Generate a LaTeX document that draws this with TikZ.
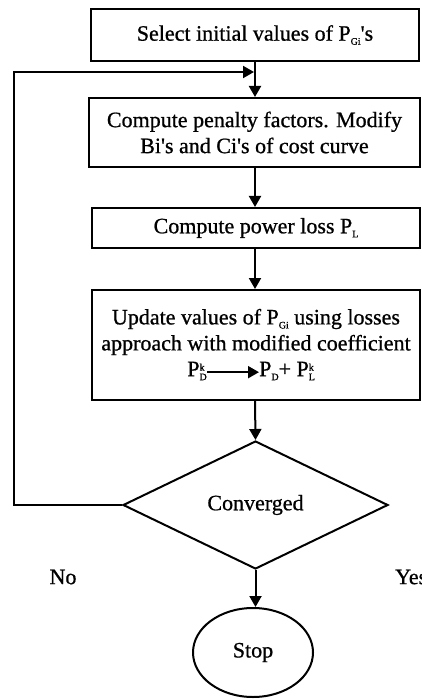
\documentclass[tikz,border=0pt]{standalone}
\usepackage{fontspec}
\setmainfont{Liberation Serif}[FakeBold=0.8]
\usetikzlibrary{shapes.geometric,arrows.meta}

% P with small raised / lowered index
\newcommand{\pidx}[2]{P\rlap{\raisebox{0.55ex}{\fontsize{10}{10}\selectfont #1}}\raisebox{-0.4ex}{\fontsize{10}{10}\selectfont #2}}

\tikzset{
  block/.style={draw, line width=2pt, inner sep=0pt, align=center},
  flow/.style={line width=2pt, -{Triangle[length=11pt,width=12pt]}}
}

\begin{document}
\begin{tikzpicture}[x=1pt,y=-1pt,font=\fontsize{22}{26}\selectfont]
  \useasboundingbox (0,0) rectangle (422,700);
  \node[block, minimum width=328pt, minimum height=52pt] (select) at (255,35) {Select initial values of \pidx{}{Gi}\textquotesingle s};
  \node[block, minimum width=331pt, minimum height=69pt] (penalty) at (254.5,132.5) {Compute penalty factors. Modify\\Bi\textquotesingle s and Ci\textquotesingle s of cost curve};
  \node[block, minimum width=328pt, minimum height=40pt] (loss) at (256,228) {Compute power loss \pidx{}{L}};
  \node[block, minimum width=328pt, minimum height=110pt] (update) at (256,345) {};
  \node[align=center, inner sep=0pt] (updtext) at (256,332) {Update values of \pidx{}{Gi} using losses\\approach with modified coefficient};
  \node[anchor=east, inner sep=0pt] (pkd) at (207,371) {\pidx{k}{D}};
  \node[anchor=west, inner sep=0pt] (pdpl) at (259,371) {\pidx{}{D}+ \pidx{k}{L}};
  \node[draw, diamond, line width=2pt, inner sep=0pt, minimum width=265pt, minimum height=128pt] (conv) at (255.5,505) {Converged};
  \node[draw, ellipse, line width=2pt, inner sep=0pt, minimum width=120pt, minimum height=89pt] (stop) at (253,652.5) {Stop};
  \node (no) at (63,577) {No};
  \node[anchor=west, inner sep=0pt] (yes) at (395,577) {Yes};
  \coordinate (back) at (14,72);

  \draw[flow] (select.south -| 255,0) -- (penalty.north -| 255,0);
  \draw[flow] (penalty.south -| 255,0) -- (loss.north -| 255,0);
  \draw[flow] (loss.south -| 255,0) -- (update.north -| 255,0);
  \draw[flow] (update.south -| 255,0) -- (conv.north);
  \draw[flow] (conv.south) -- (stop.north -| conv.south);
  \draw[flow] (conv.west) -| (back) -- (254,72);
  \draw[flow] ([yshift=4pt]pkd.base east) -- ([yshift=4pt]pdpl.base west);
\end{tikzpicture}
\end{document}
